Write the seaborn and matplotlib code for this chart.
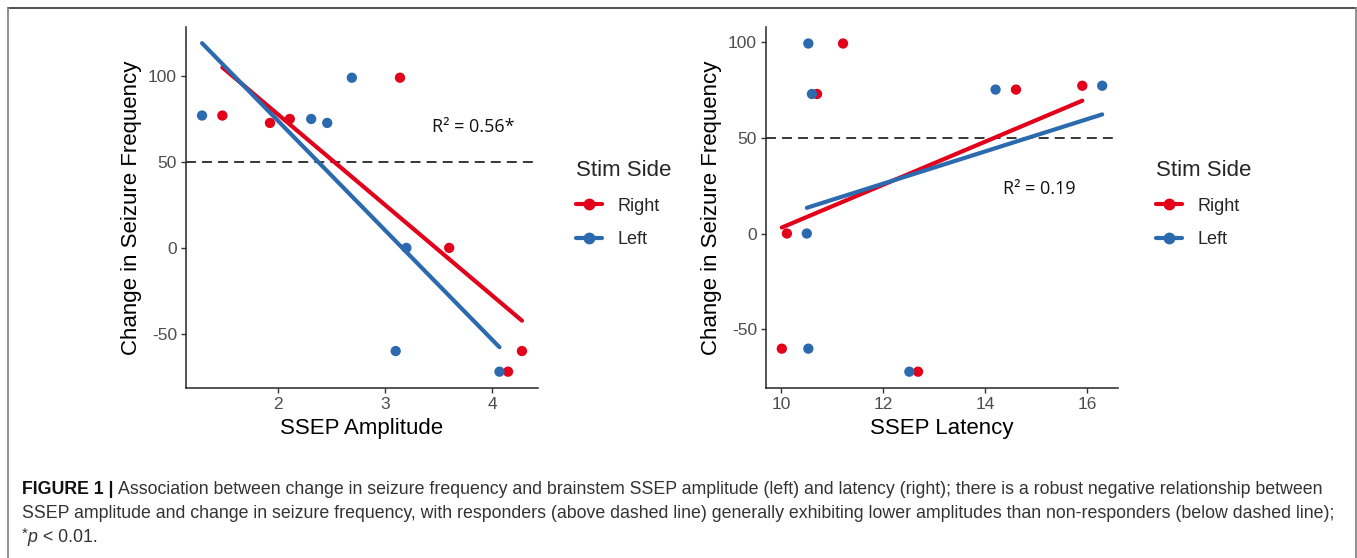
import matplotlib
matplotlib.use("Agg")
import matplotlib.pyplot as plt
import pandas as pd
import seaborn as sns
from matplotlib.lines import Line2D

# values (one entry per patient)
change_right = [77, 72.7, 75, 99, 0, -72, -60]
amplitude_right = [1.48, 1.925, 2.11, 3.14, 3.60, 4.15, 4.28]
latency_right = [15.90, 10.70, 14.60, 11.21, 10.11, 12.68, 10.01]

change_left = [77, 75, 72.7, 99, 0, -60, -72]
amplitude_left = [1.29, 2.31, 2.46, 2.69, 3.20, 3.10, 4.07]
latency_left = [16.29, 14.20, 10.60, 10.53, 10.50, 10.53, 12.51]

sides = ["Right", "Left"]
side_colors = {"Right": "#E2001A", "Left": "#2B6AAE"}
r2_labels = ["R\u00b2 = 0.56*", "R\u00b2 = 0.19"]
amp_ticks = [2, 3, 4]
lat_ticks = [10, 12, 14, 16]
change_ticks = [-50, 0, 50, 100]

df = pd.concat([
    pd.DataFrame({"side": "Right", "amplitude": amplitude_right,
                  "latency": latency_right, "change": change_right}),
    pd.DataFrame({"side": "Left", "amplitude": amplitude_left,
                  "latency": latency_left, "change": change_left}),
], ignore_index=True)

sns.set_theme(style="ticks")
plt.rcParams["font.family"] = ["Liberation Sans", "DejaVu Sans"]
plt.rcParams["axes.unicode_minus"] = False
plt.rcParams["axes.linewidth"] = 1.1
plt.rcParams["xtick.major.width"] = 1.0
plt.rcParams["ytick.major.width"] = 1.0

W, H = 1357, 558
fig = plt.figure(figsize=(W / 100, H / 100), dpi=100)

panels = [
    dict(x="amplitude", xlabel="SSEP Amplitude", xlim=(1.14, 4.43), xticks=amp_ticks,
         left=186, r2=(3.44, 70.5), r2_label=r2_labels[0], ylim=(-81.5, 128.5), leg_x=567),
    dict(x="latency", xlabel="SSEP Latency", xlim=(9.70, 16.60), xticks=lat_ticks,
         left=766, r2=(14.34, 23), r2_label=r2_labels[1], ylim=(-80.5, 107.6), leg_x=1147),
]

for p in panels:
    ax = fig.add_axes([p["left"] / W, 1 - 388 / H, 352 / W, 361 / H])
    sns.scatterplot(data=df, x=p["x"], y="change", hue="side", palette=side_colors,
                    s=55, linewidth=0, legend=False, ax=ax, zorder=3)
    for side in sides:
        sub = df[df["side"] == side]
        sns.regplot(data=sub, x=p["x"], y="change", scatter=False, ci=None,
                    color=side_colors[side], line_kws=dict(lw=3.0, zorder=4), ax=ax, truncate=True)
    ax.axhline(50, color="black", lw=1.1, ls=(0, (6.5, 4)), zorder=2)
    ax.text(p["r2"][0], p["r2"][1], p["r2_label"], fontsize=13, family="Open Sans",
            va="center", ha="left", color="#111111")

    ax.set_xlim(*p["xlim"])
    ax.set_ylim(*p["ylim"])
    ax.set_xticks(p["xticks"])
    ax.set_yticks(change_ticks)
    ax.tick_params(labelsize=12.5, labelcolor="#4D4D4D", color="#333333", length=3.5, pad=3)
    ax.set_xlabel(p["xlabel"], fontsize=16, color="black")
    ax.set_ylabel("Change in Seizure Frequency", fontsize=16, color="black")
    ax.xaxis.set_label_coords(0.5, -0.084)
    ax.yaxis.set_label_coords(-0.125, 0.5)
    sns.despine(ax=ax)

    handles = [Line2D([], [], color=side_colors[s], lw=3.0, marker="o", markersize=7.5)
               for s in sides]
    ax.legend(handles, sides, title="Stim Side", loc="upper left",
              bbox_to_anchor=(p["leg_x"] / W, 1 - 151 / H), bbox_transform=fig.transFigure,
              frameon=False, fontsize=13, title_fontsize=16, handlelength=1.45,
              handletextpad=0.85, labelspacing=0.92, alignment="left", borderpad=0)

# frame around the figure (top, left, right)
frame_kw = dict(transform=fig.transFigure, lw=1.3)
fig.add_artist(Line2D([7.5 / W, 1355.5 / W], [1 - 8 / H, 1 - 8 / H], color="#444444", **frame_kw))
fig.add_artist(Line2D([7.5 / W, 7.5 / W], [0, 1 - 8 / H], color="#888888", **frame_kw))
fig.add_artist(Line2D([1355.5 / W, 1355.5 / W], [0, 1 - 8 / H], color="#888888", **frame_kw))

# caption
cap_size = 12.75
cap_color = "#333333"
x0 = 22 / W
renderer = fig.canvas.get_renderer()


def put_after(prev, text, y, **kw):
    bb = prev.get_window_extent(renderer)
    return fig.text(bb.x1 / W, y, text, va="baseline", fontsize=cap_size, color=cap_color, **kw)


y1, y2, y3 = 1 - 494 / H, 1 - 518 / H, 1 - 542 / H
t = fig.text(x0, y1, "FIGURE 1 | ", va="baseline", fontsize=cap_size, color="#111111",
             weight="bold")
put_after(t, "Association between change in seizure frequency and brainstem SSEP amplitude "
             "(left) and latency (right); there is a robust negative relationship between", y1)
fig.text(x0, y2, "SSEP amplitude and change in seizure frequency, with responders (above dashed "
                 "line) generally exhibiting lower amplitudes than non-responders (below dashed line);",
         va="baseline", fontsize=cap_size, color=cap_color)
t = fig.text(x0, y3 + 4 / H, "*", va="baseline", fontsize=cap_size - 2, color=cap_color)
t = put_after(t, "p", y3, style="italic")
put_after(t, " < 0.01.", y3)

fig.savefig("out.png", dpi=100)
